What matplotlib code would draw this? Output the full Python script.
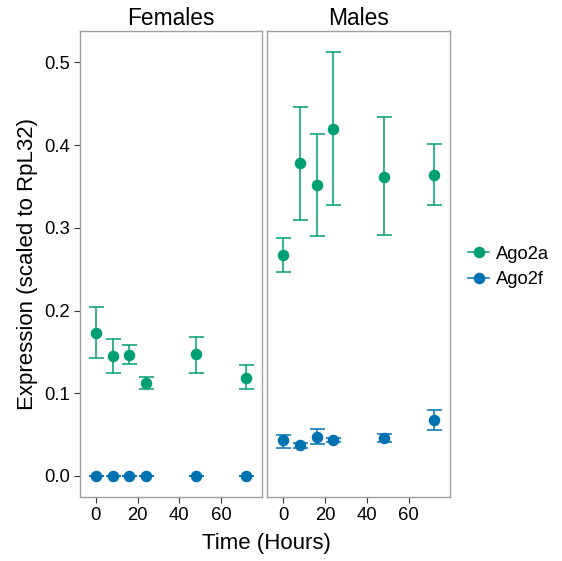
import matplotlib
matplotlib.use("Agg")
import matplotlib.pyplot as plt
from matplotlib.lines import Line2D

plt.rcParams['font.family'] = ['Liberation Sans', 'DejaVu Sans']

hours = [0, 8, 16, 24, 48, 72]
panels = ["Females", "Males"]
series = ["Ago2a", "Ago2f"]
colors = {"Ago2a": "#009E73", "Ago2f": "#0072B2"}

# mean, lower, upper
fem_ago2a = [0.173, 0.145, 0.146, 0.112, 0.147, 0.119]
fem_ago2a_lo = [0.143, 0.125, 0.135, 0.105, 0.125, 0.105]
fem_ago2a_hi = [0.204, 0.165, 0.158, 0.120, 0.168, 0.134]
fem_ago2f = [0.0, 0.0, 0.0, 0.0, 0.0, 0.0]
fem_ago2f_lo = [0.0, 0.0, 0.0, 0.0, 0.0, 0.0]
fem_ago2f_hi = [0.0, 0.0, 0.0, 0.0, 0.0, 0.0]

male_ago2a = [0.267, 0.378, 0.352, 0.420, 0.362, 0.364]
male_ago2a_lo = [0.246, 0.310, 0.290, 0.328, 0.291, 0.327]
male_ago2a_hi = [0.288, 0.446, 0.414, 0.513, 0.434, 0.401]
male_ago2f = [0.043, 0.0375, 0.0475, 0.044, 0.0456, 0.068]
male_ago2f_lo = [0.034, 0.034, 0.039, 0.0415, 0.041, 0.056]
male_ago2f_hi = [0.050, 0.040, 0.057, 0.046, 0.051, 0.080]

data = {
    "Females": {"Ago2a": (fem_ago2a, fem_ago2a_lo, fem_ago2a_hi),
                "Ago2f": (fem_ago2f, fem_ago2f_lo, fem_ago2f_hi)},
    "Males": {"Ago2a": (male_ago2a, male_ago2a_lo, male_ago2a_hi),
              "Ago2f": (male_ago2f, male_ago2f_lo, male_ago2f_hi)},
}

fig = plt.figure(figsize=(5.62, 5.61), dpi=100)
bottom, height = 0.1141, 0.8307
ax_rects = [[0.1423, bottom, 0.3238, height], [0.4751, bottom, 0.3256, height]]
axes = []
for i, p in enumerate(panels):
    ax = fig.add_axes(ax_rects[i])
    axes.append(ax)
    for s in series:
        m, lo, hi = data[p][s]
        yerr = [[mi - l for mi, l in zip(m, lo)], [h - mi for mi, h in zip(m, hi)]]
        ax.errorbar(hours, m, yerr=yerr, fmt='o', color=colors[s], ms=7.3,
                    ecolor=colors[s], elinewidth=1.1, capsize=5.4, capthick=1.1,
                    zorder=3)
    ax.set_xlim(-7.6, 79.6)
    ax.set_ylim(-0.0254, 0.538)
    ax.set_xticks([0, 20, 40, 60])
    ax.set_yticks([0.0, 0.1, 0.2, 0.3, 0.4, 0.5])
    ax.set_yticklabels(["0.0", "0.1", "0.2", "0.3", "0.4", "0.5"])
    for sp in ax.spines.values():
        sp.set_color("#a0a0a0")
        sp.set_linewidth(1.0)
    ax.tick_params(direction='out', length=4, width=0.8, color='#333333',
                   labelsize=13.3, labelcolor='black', pad=3)
    ax.set_title(p, fontsize=16.4, pad=4)
    if i == 1:
        ax.tick_params(axis='y', left=False, labelleft=False)

fig.text(0.4749, 0.032, "Time (Hours)", ha='center', va='center', fontsize=16)
fig.text(0.049, bottom + height / 2, "Expression (scaled to RpL32)", ha='center',
         va='center', rotation=90, fontsize=16)

handles = [Line2D([0], [0], color=colors[s], marker='o', ms=7.3, lw=1.1) for s in series]
fig.legend(handles, series, loc='center left', bbox_to_anchor=(0.804, 0.524),
           frameon=False, fontsize=13.2, handlelength=1.15, handletextpad=0.38,
           labelspacing=0.45)

fig.savefig("out.png", dpi=100)
